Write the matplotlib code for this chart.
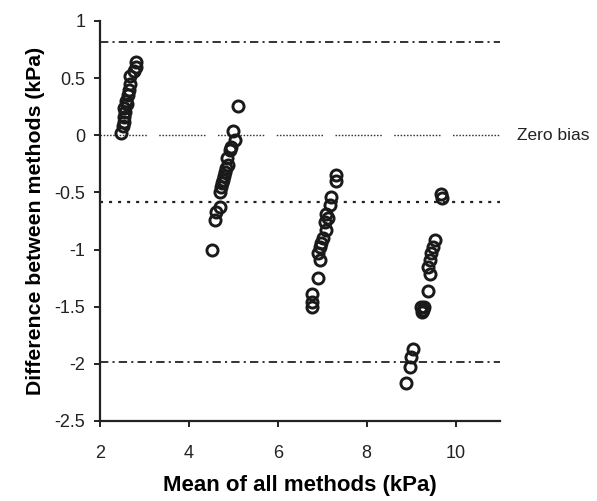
import numpy as np
import matplotlib
matplotlib.use("Agg")
import matplotlib.pyplot as plt

plt.rcParams['font.family'] = ['Liberation Sans', 'DejaVu Sans']
plt.rcParams['lines.scale_dashes'] = False

# Data: mean of methods vs difference between methods
x1 = [2.48, 2.52, 2.55, 2.53, 2.57, 2.55, 2.60, 2.58, 2.62, 2.66, 2.68, 2.67, 2.76, 2.80, 2.81]
y1 = [0.02, 0.08, 0.12, 0.16, 0.20, 0.24, 0.27, 0.30, 0.35, 0.40, 0.45, 0.52, 0.56, 0.60, 0.64]

x2 = [5.11, 5.00, 5.03, 4.92, 4.85, 4.88, 4.81, 4.77, 4.73, 4.70, 4.70, 4.62, 4.58, 4.51,
      4.95, 4.83, 4.79, 4.75]
y2 = [0.26, 0.04, -0.04, -0.13, -0.20, -0.26, -0.32, -0.39, -0.45, -0.50, -0.63, -0.67, -0.74, -1.00,
      -0.10, -0.29, -0.36, -0.42]

x3 = [7.32, 7.30, 7.20, 7.17, 7.09, 7.06, 7.09, 7.02, 6.94, 6.91, 6.94, 6.91, 6.76, 6.76, 6.76,
      7.12, 6.98]
y3 = [-0.35, -0.40, -0.54, -0.61, -0.69, -0.76, -0.83, -0.90, -0.98, -1.03, -1.09, -1.25, -1.39, -1.46, -1.50,
      -0.72, -0.94]

x4 = [9.68, 9.70, 9.53, 9.49, 9.45, 9.42, 9.38, 9.42, 9.38, 9.22, 9.26, 9.30, 9.24,
      9.04, 9.00, 8.97, 8.89]
y4 = [-0.51, -0.55, -0.92, -0.98, -1.03, -1.09, -1.15, -1.21, -1.36, -1.50, -1.53, -1.50, -1.55,
      -1.87, -1.94, -2.03, -2.17]

bias = -0.58
upper_loa = 0.82
lower_loa = -1.98

fig = plt.figure(figsize=(5.97, 5.01), dpi=100)
ax = fig.add_axes([0.1675, 0.1597, 0.67, 0.7985])

# reference lines
ax.axhline(upper_loa, color='#333333', lw=1.4, dashes=(6, 3, 1.5, 3))
ax.axhline(lower_loa, color='#333333', lw=1.4, dashes=(6, 3, 1.5, 3))
ax.axhline(bias, color='#222222', lw=1.6, dashes=(2.2, 4.3))
# agg keeps at most 32 dash entries
zero_dash = [1.1, 1.2] * 14 + [1.1, 9.0]
ax.axhline(0, color='#333333', lw=1.0, dashes=zero_dash)

# points
for xs, ys in [(x1, y1), (x2, y2), (x3, y3), (x4, y4)]:
    ax.plot(xs, ys, 'o', mfc='none', mec='#1a1a1a', ms=8, mew=2.1, ls='none')

ax.text(11.38, 0, 'Zero bias', fontsize=12.5, va='center', ha='left', color='#222222')

ax.set_xlim(2, 11)
ax.set_ylim(-2.5, 1)
ax.set_xticks([2, 4, 6, 8, 10])
ax.set_yticks([-2.5, -2, -1.5, -1, -0.5, 0, 0.5, 1])
ax.set_yticklabels(['-2.5', '-2', '-1.5', '-1', '-0.5', '0', '0.5', '1'])

for s in ['top', 'right']:
    ax.spines[s].set_visible(False)
for s in ['left', 'bottom']:
    ax.spines[s].set_linewidth(1.6)
    ax.spines[s].set_color('#222222')
ax.tick_params(direction='out', length=4.5, width=1.4, labelsize=13, colors='#222222')
ax.tick_params(axis='x', pad=13)
ax.tick_params(axis='y', pad=6)

ax.set_xlabel('Mean of all methods (kPa)', fontsize=16, fontweight='bold', labelpad=9)
ax.set_ylabel('Difference between methods (kPa)', fontsize=15.3, fontweight='bold', labelpad=7)

fig.savefig('out.png', dpi=100)
